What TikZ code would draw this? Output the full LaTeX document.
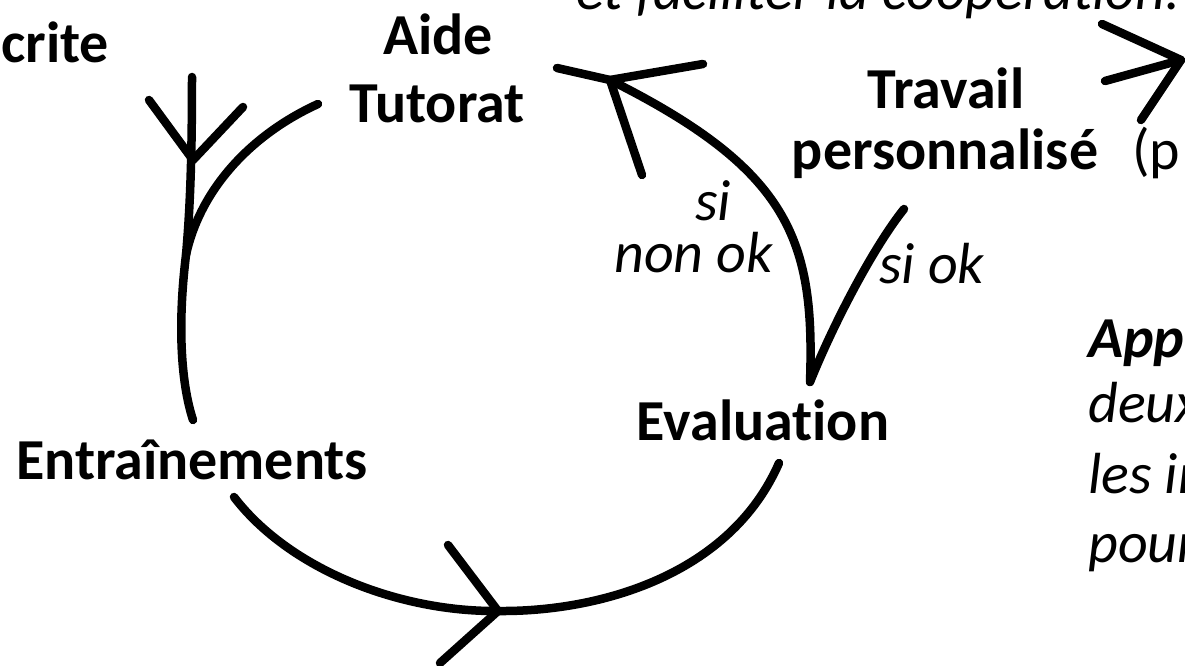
\documentclass[tikz,border=0pt]{standalone}
\usepackage{fontspec}
\setmainfont{Carlito}[Ligatures=CommonOff]
\begin{document}
\begin{tikzpicture}[x=1pt,y=-1pt,
  lbl/.style={font=\fontsize{58}{60}\selectfont\bfseries, inner sep=0pt},
  itl/.style={font=\fontsize{58}{60}\selectfont\itshape, inner sep=0pt},
  reg/.style={font=\fontsize{58}{60}\selectfont, inner sep=0pt},
  bit/.style={font=\fontsize{58}{60}\selectfont\bfseries\itshape, inner sep=0pt},
  stroke/.style={line width=8.5pt, line cap=round, line join=round}]
\useasboundingbox (0,0) rectangle (1185,666);
\clip (0,0) rectangle (1185,666);
\fill[white] (0,0) rectangle (1185,666);
% texts
\node[itl,anchor=base west] (top) at (576,10) {et faciliter la coopération.};
\node[lbl,anchor=base west] (crite) at (1,63) {crite};
\node[lbl,anchor=base] (aide) at (438,55) {Aide};
\node[lbl,anchor=base] (tutorat) at (437,123) {Tutorat};
\node[lbl,anchor=base] (travail) at (946,109) {Travail};
\node[lbl,anchor=base] (perso) at (945,169) {personnalisé};
\node[reg,anchor=base west] (pp) at (1132,169) {(p};
\node[itl,align=left,anchor=base west,font=\fontsize{58}{52}\selectfont\itshape] (nonok) at (614,272) {\hspace*{81pt}si\\non ok};
\node[itl,anchor=base west] (siok) at (879,283) {si ok};
\node[lbl,anchor=base] (eval) at (763,440) {Evaluation};
\node[lbl,anchor=base west] (entr) at (16,479) {Entraînements};
\node[bit,anchor=base west] (app) at (1088,357) {App};
\node[itl,anchor=base west] (deux) at (1088,422) {deux};
\node[itl,anchor=base west] (les) at (1088,493) {les in};
\node[itl,anchor=base west] (pour) at (1088,562) {pour};
% coordinates
\coordinate (a1) at (318,104);
\coordinate (m) at (186,255);
\coordinate (a2) at (193,420);
\coordinate (v1) at (192,77);
\coordinate (h1) at (193,160);
\coordinate (b1) at (234,497);
\coordinate (t1) at (498,611);
\coordinate (b3) at (779,463);
\coordinate (e1) at (810,382);
\coordinate (t2) at (610,80);
\coordinate (x2) at (557,68);
\coordinate (s1) at (904,209);
\coordinate (r1) at (1181,60);
% left arc
\draw[stroke] (a1) .. controls (250,135) and (200,190) .. (m) .. controls (178,320) and (180,380) .. (a2);
\draw[stroke] (v1) .. controls (192,160) and (190,210) .. (m);
\draw[stroke] (149,100) -- (h1) -- (243,107);
% lower arc
\draw[stroke] (b1) .. controls (290,570) and (400,612) .. (t1) .. controls (600,612) and (730,575) .. (b3);
\draw[stroke] (448,545) -- (t1) -- (440,663);
% si non ok
\draw[stroke] (e1) .. controls (815,240) and (790,170) .. (t2) -- (x2);
\draw[stroke] (703,64) -- (t2) -- (642,175);
% si ok
\draw[stroke] (s1) .. controls (875,245) and (835,320) .. (e1);
% right arrow
\draw[stroke] (1102,24) -- (r1) -- (1141,120);
\draw[stroke] (1105,81) -- (r1);
\end{tikzpicture}
\end{document}
